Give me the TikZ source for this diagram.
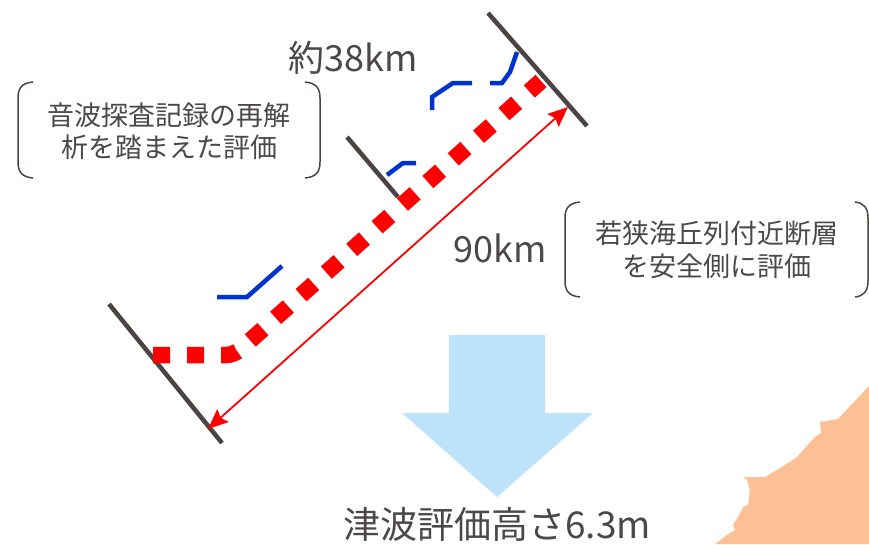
\documentclass[tikz,border=0pt]{standalone}
\usepackage{fontspec}
\setmainfont{Noto Sans CJK JP}
\usetikzlibrary{arrows.meta}
\definecolor{inkgray}{HTML}{4A4443}
\definecolor{textgray}{HTML}{4D4848}
\definecolor{faultblue}{HTML}{0033CC}
\definecolor{arrowblue}{HTML}{BDE3FA}
\definecolor{landpeach}{HTML}{FDBF94}
\tikzset{
  fault/.style={draw=inkgray, line width=4.5pt},
  survey/.style={draw=faultblue, line width=4.5pt},
  zone/.style={draw=red, line width=16.5pt, dash pattern=on 17pt off 17pt, rounded corners=8pt},
  span/.style={draw=red, line width=1.8pt, {Stealth[length=20pt,width=17pt,inset=3pt]}-{Stealth[length=20pt,width=17pt,inset=3pt]}},
  brace/.style={draw=inkgray, line width=1.5pt},
  label/.style={text=textgray, inner sep=0pt, align=center},
}
\begin{document}
\begin{tikzpicture}[x=1pt,y=-1pt]
\useasboundingbox (0,0) rectangle (869,544);

% coastline
\fill[landpeach] (869,386) -- (838,419) -- (820,422) -- (821,433) -- (815,437)
  .. controls (805,448) .. (797,457) -- (782,467) -- (765,477) -- (743,477)
  -- (747,480) -- (750,490) -- (748,505) -- (743,507) -- (738,517) -- (733,525)
  -- (735,530) -- (727,535) -- (715,544) -- (869,544) -- cycle;

% fault segments
\draw[fault] (488,13) -- (587,126);
\draw[fault] (347,137) -- (398,197);
\draw[fault] (109,304) -- (222,443);

% survey-based fault traces
\draw[survey] (432,110) -- (432,97) -- (453,83) -- (472,83);
\draw[survey] (490,83) -- (502,83) -- (510,72) -- (517,52);
\draw[survey] (387,175) -- (403,163) -- (416,163);
\draw[survey] (217,297) -- (247,297) -- (282,266);

% conservatively evaluated fault zone
\draw[zone] (153,355) -- (234,355) -- (541,81);

% length of the fault zone
\coordinate (spanA) at (568,107);
\coordinate (spanB) at (208,429);
\draw[span] (spanA) -- (spanB);

% downward arrow
\fill[arrowblue] (449,335) -- (545,335) -- (545,413) -- (593,413) -- (497,497)
  -- (402,413) -- (449,413) -- cycle;

% labels
\node[label, font=\fontsize{36}{40}\selectfont] (len38) at (353,58) {約38km};
\node[label, font=\fontsize{36}{40}\selectfont] (len90) at (500,248) {90km};
\node[label, font=\fontsize{27}{32}\selectfont] (note1) at (169,131) {音波探査記録の再解\\析を踏まえた評価};
\node[label, font=\fontsize{27}{33}\selectfont] (note2) at (717,250) {若狭海丘列付近断層\\を安全側に評価};
\node[label, font=\fontsize{37}{40}\selectfont] (result) at (497,524) {津波評価高さ6.3m};

% brackets around the notes
\draw[brace] (33,82) .. controls (22,83) and (18,88) .. (18,98) -- (18,162)
  .. controls (18,172) and (22,177) .. (33,178);
\draw[brace] (305,82) .. controls (316,83) and (320,88) .. (320,98) -- (320,162)
  .. controls (320,172) and (316,177) .. (305,178);
\draw[brace] (580,202) .. controls (569,203) and (565,208) .. (565,218) -- (565,281)
  .. controls (565,291) and (569,296) .. (580,297);
\draw[brace] (855,202) .. controls (864,203) and (868,208) .. (868,218) -- (868,281)
  .. controls (868,291) and (864,296) .. (855,297);
\end{tikzpicture}
\end{document}
